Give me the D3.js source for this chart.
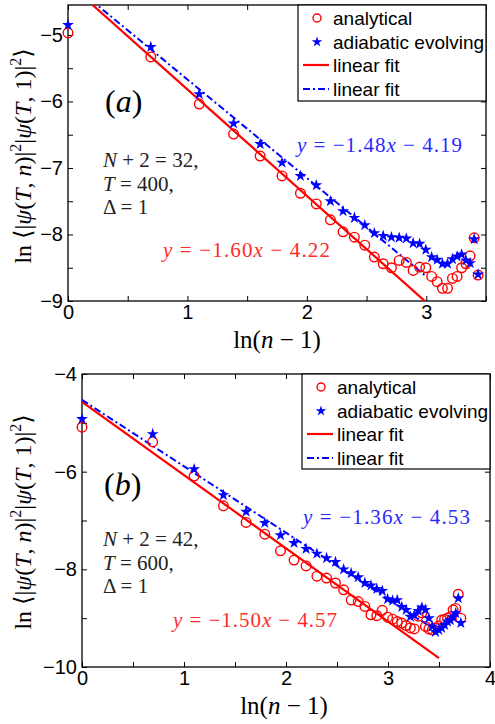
<!DOCTYPE html>
<html>
<head>
<meta charset="utf-8">
<script src="https://cdn.jsdelivr.net/npm/d3@7"></script>
<style>
  body { margin: 0; background: #fff; }
  svg text { font-family: "Liberation Sans", Arial, sans-serif; }
  .serif { font-family: "Liberation Serif", "DejaVu Serif", serif; }
</style>
</head>
<body>
<div id="chart"></div>
<script>
// ---------------------------------------------------------------
// datos
// ---------------------------------------------------------------

// x = ln(n-1), n-1 = 1..31  (panel a)  y 1..41 (panel b)
var lnA = [0, 0.693, 1.099, 1.386, 1.609, 1.792, 1.946, 2.079, 2.197, 2.303,
           2.398, 2.485, 2.565, 2.639, 2.708, 2.773, 2.833, 2.890, 2.944, 2.996,
           3.045, 3.091, 3.135, 3.178, 3.219, 3.258, 3.296, 3.332, 3.367, 3.401, 3.434];
var lnB = lnA.concat([3.466, 3.497, 3.526, 3.555, 3.584, 3.611, 3.638, 3.664, 3.689, 3.714]);

// panel (a): N+2 = 32
var analyticalA = [-4.97, -5.33, -6.04, -6.49, -6.82, -7.12, -7.38, -7.54, -7.78, -7.96,
                   -8.04, -8.16, -8.34, -8.44, -8.50, -8.39, -8.42, -8.54, -8.49, -8.50,
                   -8.63, -8.71, -8.81, -8.81, -8.66, -8.63, -8.50, -8.44, -8.32, -8.05, -8.61];
var adiabaticA = [-4.85, -5.18, -5.89, -6.33, -6.64, -6.92, -7.12, -7.26, -7.50, -7.65,
                  -7.75, -7.86, -7.98, -8.02, -8.04, -8.05, -8.06, -8.13, -8.14, -8.23,
                  -8.34, -8.38, -8.44, -8.44, -8.37, -8.33, -8.30, -8.39, -8.43, -8.07, -8.60];
var fitRedA = [-1.60, -4.22];
var fitBlueA = [-1.48, -4.19];

// panel (b): N+2 = 42
var analyticalB = [-5.09, -5.39, -6.09, -6.70, -7.04, -7.28, -7.62, -7.81, -7.93, -8.14,
                   -8.18, -8.28, -8.42, -8.63, -8.66, -8.76, -8.93, -8.95, -8.84, -8.98,
                   -9.02, -9.07, -9.10, -9.15, -9.20, -9.22, -8.96, -8.89, -9.17, -9.22,
                   -9.24, -9.20, -9.16, -9.04, -9.02, -9.00, -8.97, -8.83, -8.80, -8.51, -9.00];
var adiabaticB = [-4.92, -5.23, -5.95, -6.48, -6.82, -7.05, -7.30, -7.46, -7.58, -7.68,
                  -7.77, -7.85, -8.00, -8.08, -8.16, -8.28, -8.33, -8.40, -8.44, -8.61,
                  -8.64, -8.63, -8.77, -8.83, -8.97, -8.94, -8.85, -8.78, -8.83, -9.00,
                  -9.17, -9.28, -9.24, -9.20, -9.14, -9.07, -9.04, -8.98, -8.90, -8.59, -9.10];
var fitRedB = [-1.50, -4.57];
var fitBlueB = [-1.36, -4.53];

var legendLabels = ["analytical", "adiabatic evolving", "linear fit", "linear fit"];

// colores
var RED = "#ff0000", BLUE = "#0000ff";

var svg = d3.select("#chart").append("svg")
    .attr("width", 495)
    .attr("height", 724);

// ---------------------------------------------------------------
// funcion que pinta un panel
// ---------------------------------------------------------------
function drawPanel(o) {

    var x = d3.scaleLinear().domain(o.xDom).range([0, o.w]);
    var y = d3.scaleLinear().domain(o.yDom).range([o.h, 0]);

    var g = svg.append("g")
        .attr("transform", "translate(" + o.left + "," + o.top + ")");

    // clip
    g.append("clipPath").attr("id", "clip" + o.id)
      .append("rect").attr("width", o.w).attr("height", o.h);

    var fmt = function(d) { return (Math.abs(d % o.labelStep) < 1e-9) ? d3.format("")(d) : ""; };

    // ejes con ticks hacia dentro
    g.append("g").attr("class", "axis")
        .attr("transform", "translate(0," + o.h + ")")
        .call(d3.axisBottom(x).tickValues(o.xTicks).tickSizeInner(-5).tickSizeOuter(0)
              .tickPadding(4).tickFormat(function(d){ return Number.isInteger(d) ? d : ""; }));
    g.append("g").attr("class", "axis")
        .call(d3.axisTop(x).tickValues(o.xTicks).tickSizeInner(-5).tickSizeOuter(0).tickFormat(""));
    g.append("g").attr("class", "axis")
        .call(d3.axisLeft(y).tickValues(o.yTicks).tickSizeInner(-5).tickSizeOuter(0)
              .tickPadding(5).tickFormat(fmt));
    g.append("g").attr("class", "axis")
        .attr("transform", "translate(" + o.w + ",0)")
        .call(d3.axisRight(y).tickValues(o.yTicks).tickSizeInner(-5).tickSizeOuter(0).tickFormat(""));

    g.selectAll(".axis .domain").remove();
    g.selectAll(".axis line").attr("stroke", "#000").attr("stroke-width", 1);
    g.selectAll(".axis text").attr("font-size", 20).attr("fill", "#000")
        .attr("font-family", "'Liberation Sans', Arial, sans-serif");

    // marco
    g.append("rect")
        .attr("width", o.w).attr("height", o.h)
        .attr("fill", "none").attr("stroke", "#000").attr("stroke-width", 1.3);

    var plot = g.append("g").attr("clip-path", "url(#clip" + o.id + ")");

    // rectas de ajuste
    var line = d3.line()
        .x(function(d) { return x(d); })
        .y(function(d) { return y(o.fitRed[0] * d + o.fitRed[1]); });
    plot.append("path")
        .attr("d", line([0, o.fitEnd]))
        .attr("fill", "none").attr("stroke", RED).attr("stroke-width", 2.2);

    var line2 = d3.line()
        .x(function(d) { return x(d); })
        .y(function(d) { return y(o.fitBlue[0] * d + o.fitBlue[1]); });
    plot.append("path")
        .attr("d", line2([0, o.fitEnd]))
        .attr("fill", "none").attr("stroke", BLUE).attr("stroke-width", 2)
        .attr("stroke-dasharray", "7,3,2,3");

    // puntos analiticos
    g.selectAll("circle.an")
        .data(o.analytical)
      .enter().append("circle")
        .attr("class", "an")
        .attr("cx", function(d, i) { return x(o.xs[i]); })
        .attr("cy", function(d) { return y(d); })
        .attr("r", 4.8)
        .attr("fill", "none").attr("stroke", RED).attr("stroke-width", 1.4);

    // estrellas
    var star = d3.symbol().type(d3.symbolStar).size(44);
    g.selectAll("path.ad")
        .data(o.adiabatic)
      .enter().append("path")
        .attr("class", "ad")
        .attr("d", star)
        .attr("transform", function(d, i) { return "translate(" + x(o.xs[i]) + "," + y(d) + ")"; })
        .attr("fill", BLUE);

    // leyenda
    var lg = svg.append("g").attr("transform", "translate(" + o.leg[0] + "," + o.leg[1] + ")");
    lg.append("rect")
        .attr("width", o.leg[2]).attr("height", o.leg[3])
        .attr("fill", "#fff").attr("stroke", "#000").attr("stroke-width", 1.2);
    var rows = [13, 37, 60, 84];
    lg.append("circle").attr("cx", 19).attr("cy", rows[0]).attr("r", 4)
        .attr("fill", "none").attr("stroke", RED).attr("stroke-width", 1.4);
    lg.append("path").attr("d", d3.symbol().type(d3.symbolStar).size(34)).attr("fill", BLUE)
        .attr("transform", "translate(19," + rows[1] + ")");
    lg.append("line").attr("x1", 5).attr("x2", 31).attr("y1", rows[2]).attr("y2", rows[2])
        .attr("stroke", RED).attr("stroke-width", 2.2);
    lg.append("line").attr("x1", 5).attr("x2", 31).attr("y1", rows[3]).attr("y2", rows[3])
        .attr("stroke", BLUE).attr("stroke-width", 2).attr("stroke-dasharray", "7,3,2,3");
    lg.selectAll("text.lt")
        .data(legendLabels)
      .enter().append("text")
        .attr("class", "lt")
        .attr("x", 35)
        .attr("y", function(d, i) { return rows[i] + 7; })
        .attr("font-size", 19)
        .text(function(d) { return d; });

    // etiqueta del panel
    var pl = svg.append("text").attr("class", "serif")
        .attr("x", o.tag[0]).attr("y", o.tag[1]).attr("font-size", 32);
    pl.append("tspan").text("(");
    pl.append("tspan").attr("font-style", "italic").text(o.tagLetter);
    pl.append("tspan").text(")");

    // parametros
    o.params.forEach(function(p, i) {
        var t = svg.append("text").attr("class", "serif")
            .attr("x", o.parPos[0]).attr("y", o.parPos[1] + i * 23.5)
            .attr("font-size", 21).attr("fill", "#222");
        p.forEach(function(s) {
            t.append("tspan").attr("font-style", s[1] ? "italic" : "normal").text(s[0]);
        });
    });

    // ecuaciones
    function eq(pos, coef, col, len) {
        var t = svg.append("text").attr("class", "serif")
            .attr("x", pos[0]).attr("y", pos[1]).attr("font-size", 21).attr("fill", col)
            .attr("textLength", len).attr("lengthAdjust", "spacing");
        t.append("tspan").attr("font-style", "italic").text("y");
        t.append("tspan").text(" = \u2212" + (-coef[0]).toFixed(2));
        t.append("tspan").attr("font-style", "italic").text("x");
        t.append("tspan").text(" \u2212 " + (-coef[1]).toFixed(2));
    }
    eq(o.eqBlue, o.fitBlue, "#2a2aff", o.eqBlue[2]);
    eq(o.eqRed, o.fitRed, "#ff2a2a", o.eqRed[2]);

    // etiqueta eje x
    var xl = svg.append("text").attr("class", "serif")
        .attr("x", o.xLab[0]).attr("y", o.xLab[1]).attr("text-anchor", "middle").attr("font-size", 25);
    xl.append("tspan").text("ln(");
    xl.append("tspan").attr("font-style", "italic").text("n");
    xl.append("tspan").text(" \u2212 1)");

    // etiqueta eje y
    var yl = svg.append("text").attr("class", "serif")
        .attr("transform", "translate(" + o.yLab[0] + "," + o.yLab[1] + ") rotate(-90)")
        .attr("text-anchor", "middle").attr("font-size", 24);
    var parts = [["ln \u27E8|", 0], ["\u03C8", 1], ["(", 0], ["T", 1], [", ", 0], ["n", 1], [")|", 0],
                 ["2", 2], ["|", 0], ["\u03C8", 1], ["(", 0], ["T", 1], [", 1)|", 0], ["2", 2], ["\u27E9", 0]];
    parts.forEach(function(p, i) {
        var ts = yl.append("tspan").text(p[0]);
        if (p[1] === 1) ts.attr("font-style", "italic");
        if (p[1] === 2) ts.attr("font-size", 16).attr("dy", -10);
        // volver a la linea base tras el superindice
        if (i > 0 && parts[i - 1][1] === 2) ts.attr("dy", 10);
    });
}

drawPanel({
    id: "a", left: 68, top: 5, w: 418, h: 296,
    xDom: [0, 3.5], yDom: [-9, -4.55],
    xTicks: d3.range(0, 3.51, 0.5), yTicks: d3.range(-9, -4.9, 0.5), labelStep: 1,
    xs: lnA, analytical: analyticalA, adiabatic: adiabaticA,
    fitRed: fitRedA, fitBlue: fitBlueA, fitEnd: 3.0,
    leg: [298, 5, 188, 96],
    tag: [105, 112], tagLetter: "a",
    params: [[["N", 1], [" + 2 = 32,", 0]], [["T", 1], [" = 400,", 0]], [["\u0394 = 1", 0]]],
    parPos: [103, 167],
    eqBlue: [297, 152, 165], eqRed: [163, 257, 167],
    xLab: [277, 348], yLab: [31, 156]
});

drawPanel({
    id: "b", left: 82, top: 374, w: 408, h: 293,
    xDom: [0, 4], yDom: [-10, -4],
    xTicks: d3.range(0, 4.01, 0.5), yTicks: d3.range(-10, -3.9, 1), labelStep: 2,
    xs: lnB, analytical: analyticalB, adiabatic: adiabaticB,
    fitRed: fitRedB, fitBlue: fitBlueB, fitEnd: 3.5,
    leg: [302, 374, 188, 95],
    tag: [104, 495], tagLetter: "b",
    params: [[["N", 1], [" + 2 = 42,", 0]], [["T", 1], [" = 600,", 0]], [["\u0394 = 1", 0]]],
    parPos: [103, 546],
    eqBlue: [303, 524, 167], eqRed: [173, 627, 164],
    xLab: [284, 714], yLab: [31, 522]
});
</script>
</body>
</html>
